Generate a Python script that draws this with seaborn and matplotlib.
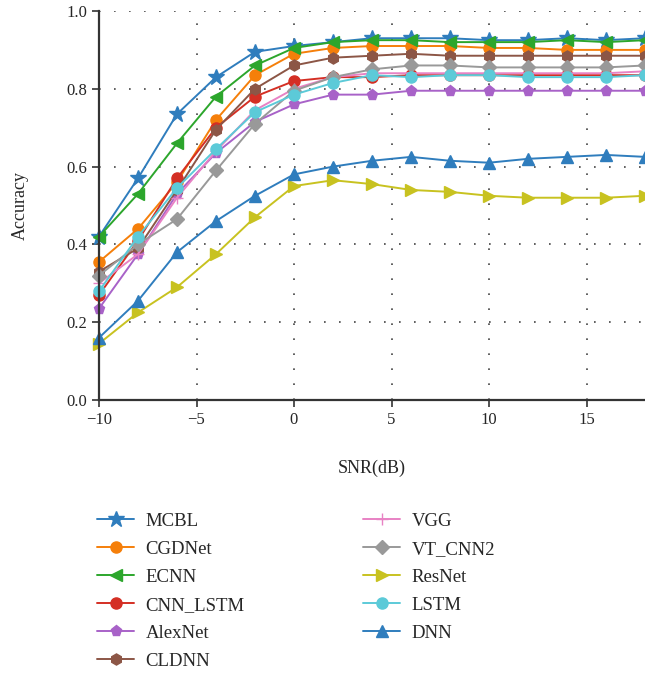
# accuracy vs SNR for the different classifiers
import matplotlib
matplotlib.use("Agg")
import matplotlib.pyplot as plt
import seaborn as sns

snr = [-10, -8, -6, -4, -2, 0, 2, 4, 6, 8, 10, 12, 14, 16, 18]

mcbl = [0.42, 0.57, 0.735, 0.83, 0.895, 0.91, 0.92, 0.93, 0.93, 0.93, 0.925, 0.925, 0.93, 0.925, 0.93]
cgdnet = [0.355, 0.44, 0.56, 0.72, 0.835, 0.89, 0.905, 0.91, 0.91, 0.91, 0.905, 0.905, 0.90, 0.90, 0.90]
ecnn = [0.42, 0.53, 0.66, 0.78, 0.86, 0.905, 0.92, 0.925, 0.925, 0.92, 0.92, 0.92, 0.925, 0.92, 0.925]
cnn_lstm = [0.27, 0.41, 0.57, 0.70, 0.78, 0.82, 0.83, 0.83, 0.835, 0.835, 0.835, 0.835, 0.835, 0.835, 0.835]
alexnet = [0.235, 0.375, 0.53, 0.635, 0.715, 0.76, 0.785, 0.785, 0.795, 0.795, 0.795, 0.795, 0.795, 0.795, 0.795]
cldnn = [0.33, 0.39, 0.54, 0.695, 0.80, 0.86, 0.88, 0.885, 0.89, 0.885, 0.885, 0.885, 0.885, 0.885, 0.885]
vgg = [0.30, 0.375, 0.52, 0.64, 0.745, 0.80, 0.83, 0.84, 0.84, 0.84, 0.84, 0.84, 0.84, 0.84, 0.845]
vt_cnn2 = [0.32, 0.40, 0.465, 0.59, 0.71, 0.795, 0.83, 0.85, 0.86, 0.86, 0.855, 0.855, 0.855, 0.855, 0.86]
resnet = [0.145, 0.225, 0.29, 0.375, 0.47, 0.55, 0.565, 0.555, 0.54, 0.535, 0.525, 0.52, 0.52, 0.52, 0.525]
lstm = [0.28, 0.42, 0.545, 0.645, 0.74, 0.785, 0.815, 0.835, 0.83, 0.835, 0.835, 0.83, 0.83, 0.83, 0.835]
dnn = [0.16, 0.255, 0.38, 0.46, 0.525, 0.58, 0.60, 0.615, 0.625, 0.615, 0.61, 0.62, 0.625, 0.63, 0.625]

names = ["MCBL", "CGDNet", "ECNN", "CNN_LSTM", "AlexNet", "CLDNN",
         "VGG", "VT_CNN2", "ResNet", "LSTM", "DNN"]
series = [mcbl, cgdnet, ecnn, cnn_lstm, alexnet, cldnn,
          vgg, vt_cnn2, resnet, lstm, dnn]

# styles for each model
colors = ["#2f7dbd", "#f57f0a", "#2ca62c", "#d42f24", "#a862c8", "#8c5646",
          "#e882c4", "#999999", "#c8c220", "#5ccad8", "#2f7dbd"]
markers = ["*", "o", "<", "o", "p", "h", "+", "D", ">", "o", "^"]
sizes = [12, 8, 8.5, 8, 8, 8, 9, 7.5, 8.5, 8, 8.5]

sns.set_style("white")
plt.rcParams['font.family'] = ['Liberation Serif', 'DejaVu Serif']

fig = plt.figure(figsize=(6.45, 6.79), dpi=100)
ax = fig.add_axes([99 / 645, 1 - 400 / 679, 1 - 99 / 645, 389 / 679])

for name, vals, c, m, s in zip(names, series, colors, markers, sizes):
    sns.lineplot(x=snr, y=vals, ax=ax, color=c, marker=m, markersize=s,
                 markeredgecolor=c, markeredgewidth=1.0, linewidth=1.4,
                 label=name, clip_on=False)

ax.set_xlim(-10, 18)
ax.set_ylim(0, 1.0)
ax.set_xticks([-10, -5, 0, 5, 10, 15])
ax.set_xticklabels(["\u221210", "\u22125", "0", "5", "10", "15"])
ax.set_yticks([0.0, 0.2, 0.4, 0.6, 0.8, 1.0])
ax.set_yticklabels(["0.0", "0.2", "0.4", "0.6", "0.8", "1.0"])
ax.tick_params(axis="both", labelsize=12, length=5, width=1.2,
               direction="out", color="#333333", bottom=True, left=True)

# dotted grid
ax.grid(True, linestyle=(0, (1, 8)), linewidth=1.2, color="#444444")
sns.despine(ax=ax)
for sp in ["left", "bottom"]:
    ax.spines[sp].set_linewidth(1.6)
    ax.spines[sp].set_color("#333333")

ax.set_xlabel("")
ax.set_ylabel("")
fig.text(20 / 645, 1 - 205 / 679, "Accuracy", rotation=90, fontsize=13,
         ha="center", va="center")
fig.text(372 / 645, 1 - 468 / 679, "SNR(dB)", fontsize=13,
         ha="center", va="center")

handles, labels = ax.get_legend_handles_labels()
ax.get_legend().remove()
fig.legend(handles, labels, ncol=2, loc="upper left",
           bbox_to_anchor=(80 / 645, 1 - 496 / 679), frameon=False,
           fontsize=13.5, handlelength=2.0, handletextpad=0.6,
           columnspacing=6.3, labelspacing=0.58)

fig.savefig("out.png", dpi=100)
